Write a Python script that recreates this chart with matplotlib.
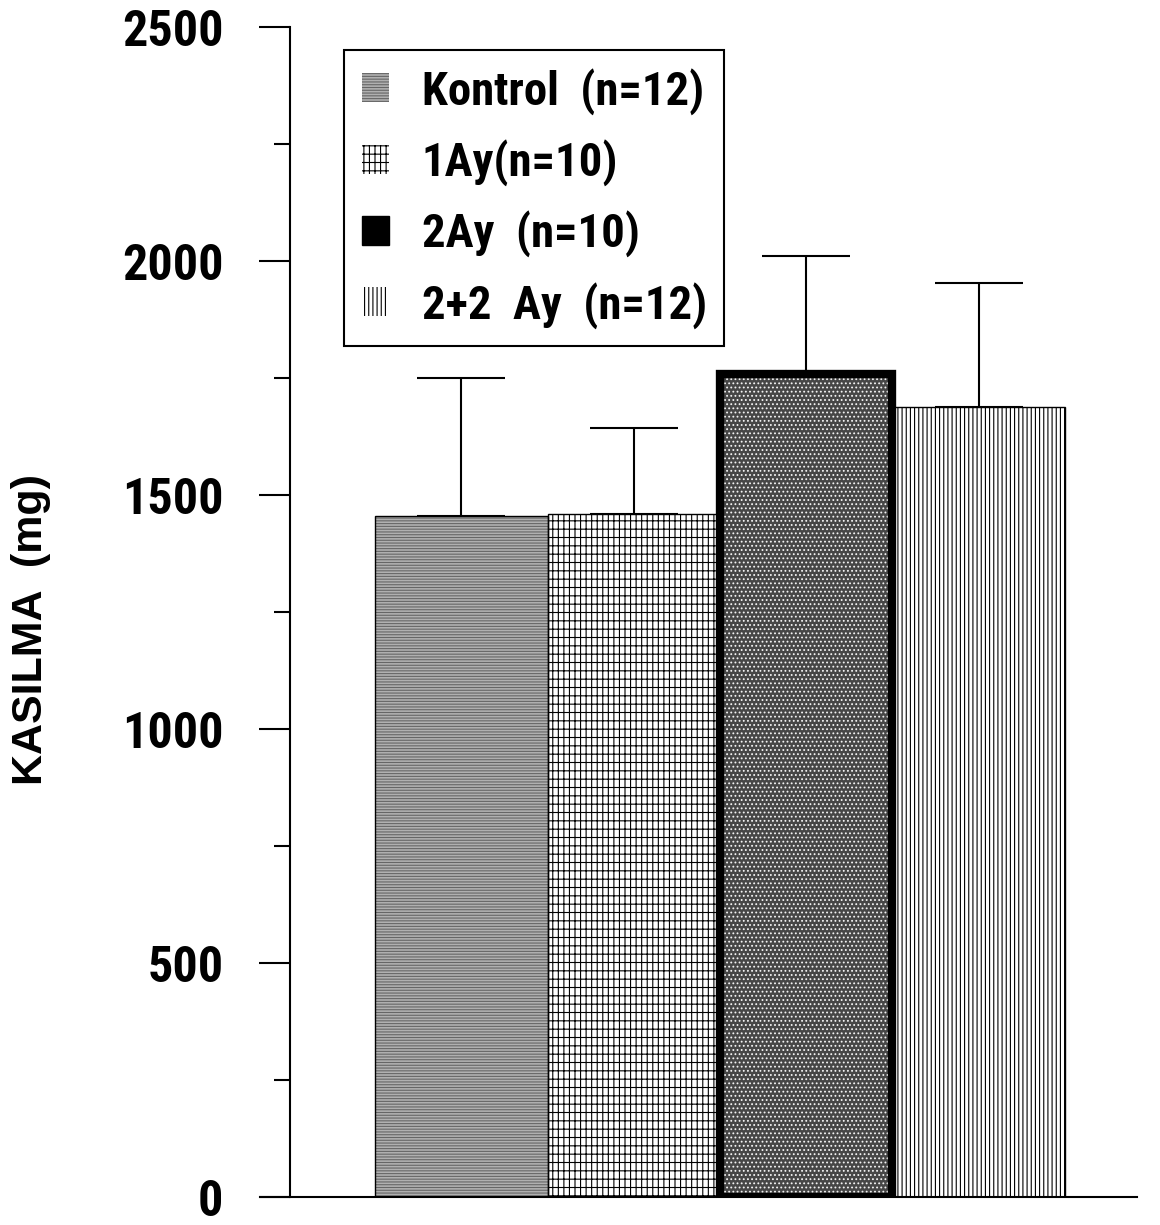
import matplotlib
matplotlib.use("Agg")
import matplotlib.pyplot as plt
from matplotlib import font_manager as fm
from matplotlib.patches import Patch
from matplotlib.ticker import MultipleLocator

# veriler
gruplar = ["Kontrol  (n=12)", "1Ay(n=10)", "2Ay  (n=10)", "2+2  Ay  (n=12)"]
ortalama = [1456, 1459, 1759, 1687]
hata = [293, 185, 252, 265]

plt.rcParams["hatch.linewidth"] = 0.8

# dar (narrow/condensed) kalin font ara, once Helvetica'ya benzeyenler
tercih = ["Liberation Sans Narrow", "Roboto Condensed", "Open Sans Condensed",
          "Noto Sans", "Open Sans", "Roboto", "Lato", "DejaVu Sans"]
adaylar = []
for f in fm.fontManager.ttflist:
    w = f.weight if isinstance(f.weight, int) else {"bold": 700}.get(f.weight, 400)
    dar_mi = (f.stretch in ("condensed", "semi-condensed")
              or "Narrow" in f.name or "Condensed" in f.name)
    if 600 <= w <= 750 and f.style == "normal" and dar_mi:
        sira = next((i for i, t in enumerate(tercih) if f.name.startswith(t)), 99)
        adaylar.append((sira, f.fname))
adaylar.sort()
dar = adaylar[0][1] if adaylar else None


def font(size):
    if dar:
        return fm.FontProperties(fname=dar, size=size)
    return fm.FontProperties(family=["Liberation Sans", "DejaVu Sans"],
                             weight="bold", size=size)


fig = plt.figure(figsize=(11.6, 12.25), dpi=100)
renderer = fig.canvas.get_renderer()


def boyut(metin, hedef_px):
    # metni hedef genislige sigdiracak punto
    t = fig.text(0, 0, metin, fontproperties=font(40))
    gen = t.get_window_extent(renderer).width
    t.remove()
    return 40 * hedef_px / gen


ax = fig.add_axes([260 / 1160, 28 / 1225, 877 / 1160, 1170 / 1225])

x = list(range(len(gruplar)))

# hata cubuklari (sadece yukari)
ax.errorbar(x, ortalama, yerr=[[0] * len(hata), hata], fmt="none",
            ecolor="black", elinewidth=1.5, capsize=32, capthick=1.5, zorder=1)

# cubuk dolgulari
stiller = [
    dict(facecolor="#b0b0b0", hatch="------", edgecolor="#666666"),
    dict(facecolor="white", hatch="--|||", edgecolor="black"),
    dict(facecolor="#464646", hatch="....", edgecolor="#f4f4f4"),
    dict(facecolor="white", hatch="||||", edgecolor="black"),
]
for xi, v, st in zip(x, ortalama, stiller):
    ax.bar(xi, v, width=1.0, linewidth=0, zorder=2, **st)

# kenarliklar
for xi, v in zip(x, ortalama):
    lw = 6 if xi == 2 else 1
    ax.bar(xi, v, width=1.0, facecolor="none", edgecolor="black",
           linewidth=lw, zorder=3 if xi != 2 else 4)

ax.set_xlim(-1.169, 3.919)
ax.set_ylim(0, 2500)

ax.spines["top"].set_visible(False)
ax.spines["right"].set_visible(False)
ax.spines["left"].set_position(("data", -0.995))
ax.spines["left"].set_linewidth(1.5)
ax.spines["bottom"].set_linewidth(1.5)

ax.set_xticks([])
ax.yaxis.set_major_locator(MultipleLocator(500))
ax.yaxis.set_minor_locator(MultipleLocator(250))
ax.tick_params(axis="y", which="major", length=22, width=1.5, pad=26)
ax.tick_params(axis="y", which="minor", length=11.5, width=1.5)
tick_pt = min(boyut("2500", 104), 36)
for lab in ax.get_yticklabels():
    lab.set_fontproperties(font(tick_pt))

ax.set_ylabel("KASILMA  (mg)", fontproperties=fm.FontProperties(
    family=["Liberation Sans", "DejaVu Sans"], weight="bold", size=31))
ax.yaxis.set_label_coords(-0.238, 0.485)

# lejant
leg_pt = min(boyut(gruplar[0], 282), 35)
tutamaclar = [Patch(linewidth=0, **st) for st in stiller]
tutamaclar[2] = Patch(facecolor="black", edgecolor="black")
leg = ax.legend(tutamaclar, gruplar, loc="upper left",
                bbox_to_anchor=(344 / 1160, 1 - 50 / 1225),
                bbox_transform=fig.transFigure,
                prop=font(leg_pt),
                handlelength=0.58, handleheight=0.58, handletextpad=0.7,
                labelspacing=0.52, borderpad=0.38, borderaxespad=0,
                fancybox=False, framealpha=1, edgecolor="black")
leg.get_frame().set_linewidth(1.5)
leg.set_zorder(5)

fig.savefig("out.png", dpi=100)
